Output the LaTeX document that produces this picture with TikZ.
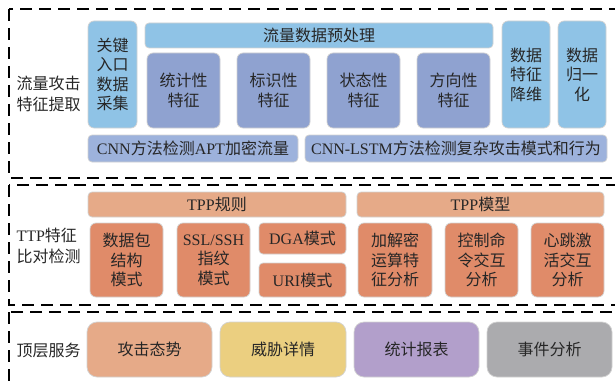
\documentclass[tikz,border=0pt]{standalone}
\usepackage{fontspec}
\setmainfont{Liberation Serif}
\newfontfamily\cjk{Noto Sans CJK SC}
\newcommand\lat[1]{{\rmfamily #1}}
\definecolor{cielclair}{HTML}{8FC3E6}
\definecolor{bleumauve}{HTML}{8FA2D0}
\definecolor{bleubarre}{HTML}{9DB2DC}
\definecolor{saumon}{HTML}{E6AA88}
\definecolor{saumonfonce}{HTML}{E08B69}
\definecolor{jaunepale}{HTML}{EBCF80}
\definecolor{lilas}{HTML}{B29FCB}
\definecolor{grisbox}{HTML}{ABABAE}
\tikzset{
  boite/.style={draw=gray!35, line width=0.7pt, rounded corners=6pt, align=center,
    text=black!85, font=\cjk\fontsize{16}{19.5}\selectfont, inner sep=0pt},
  cadre/.style={draw=black, line width=1.1pt, dash pattern=on 12pt off 7pt},
  etiquette/.style={align=left, text=black!85, font=\cjk\fontsize{16}{21}\selectfont},
}
\begin{document}
\begin{tikzpicture}[x=1pt,y=-1pt]  % ------ Architecture de detection ------------------
    \useasboundingbox (0,0) rectangle (615,385);
    \clip (0,0) rectangle (615,385);
    \draw [cadre] (9,9) rectangle (640,178);
    \draw [cadre] (9,185) rectangle (640,305);
    \draw [cadre] (9,312) rectangle (640,410);
    % ---- flux
    \node [etiquette] (lab1) at (48.5,94) {流量攻击\\特征提取};
    \node [boite, fill=cielclair, minimum width=49, minimum height=107] (collect) at (112.5,74.5) {关键\\入口\\数据\\采集};
    \node [boite, fill=cielclair, rounded corners=4pt, minimum width=348, minimum height=25] (prep) at (319,35.5) {流量数据预处理};
    \node [boite, fill=bleumauve, minimum width=73, minimum height=75] (stat) at (183.5,90.5) {统计性\\特征};
    \node [boite, fill=bleumauve, minimum width=73, minimum height=75] (ident) at (273.5,90.5) {标识性\\特征};
    \node [boite, fill=bleumauve, minimum width=73, minimum height=75] (etat) at (363.5,90.5) {状态性\\特征};
    \node [boite, fill=bleumauve, minimum width=73, minimum height=75] (direc) at (453.5,90.5) {方向性\\特征};
    \node [boite, fill=cielclair, minimum width=48, minimum height=107] (reduc) at (526,74.5) {数据\\特征\\降维};
    \node [boite, fill=cielclair, minimum width=48, minimum height=107] (norm) at (582,74.5) {数据\\归一\\化};
    \node [boite, fill=bleubarre, rounded corners=4pt, minimum width=210, minimum height=27] (cnn) at (193,148.5) {\lat{CNN}方法检测\lat{APT}加密流量};
    \node [boite, fill=bleubarre, rounded corners=4pt, minimum width=302, minimum height=27] (lstm) at (456,148.5) {\lat{CNN-LSTM}方法检测复杂攻击模式和行为};
    % ---- TTP
    \node [etiquette] (lab2) at (48.5,246) {\lat{TTP}特征\\比对检测};
    \node [boite, fill=saumon, rounded corners=4pt, minimum width=258, minimum height=25] (regle) at (217,204.5) {\lat{TPP}规则};
    \node [boite, fill=saumon, rounded corners=4pt, minimum width=247, minimum height=25] (modele) at (480.5,204.5) {\lat{TPP}模型};
    \node [boite, fill=saumonfonce, minimum width=73, minimum height=74] (paquet) at (126.5,260) {数据包\\结构\\模式};
    \node [boite, fill=saumonfonce, minimum width=73, minimum height=74] (ssl) at (213.5,260) {\lat{SSL/SSH}\\指纹\\模式};
    \node [boite, fill=saumonfonce, rounded corners=4pt, minimum width=87, minimum height=31] (dga) at (302.5,238.5) {\lat{DGA}模式};
    \node [boite, fill=saumonfonce, rounded corners=4pt, minimum width=87, minimum height=34] (uri) at (302.5,280) {\lat{URI}模式};
    \node [boite, fill=saumonfonce, minimum width=74, minimum height=74] (chiffre) at (395,260) {加解密\\运算特\\征分析};
    \node [boite, fill=saumonfonce, minimum width=73, minimum height=74] (cmd) at (481.5,260) {控制命\\令交互\\分析};
    \node [boite, fill=saumonfonce, minimum width=73, minimum height=74] (pouls) at (567.5,260) {心跳激\\活交互\\分析};
    % ---- services
    \node [etiquette] (lab3) at (48.5,350) {顶层服务};
    \node [boite, fill=saumon, rounded corners=10pt, minimum width=125, minimum height=55] (posture) at (149.5,349.5) {攻击态势};
    \node [boite, fill=jaunepale, rounded corners=10pt, minimum width=126, minimum height=55] (menace) at (283,349.5) {威胁详情};
    \node [boite, fill=lilas, rounded corners=10pt, minimum width=125, minimum height=55] (rapport) at (416.5,349.5) {统计报表};
    \node [boite, fill=grisbox, rounded corners=10pt, minimum width=125, minimum height=55] (evt) at (549.5,349.5) {事件分析};
\end{tikzpicture}
\end{document}
